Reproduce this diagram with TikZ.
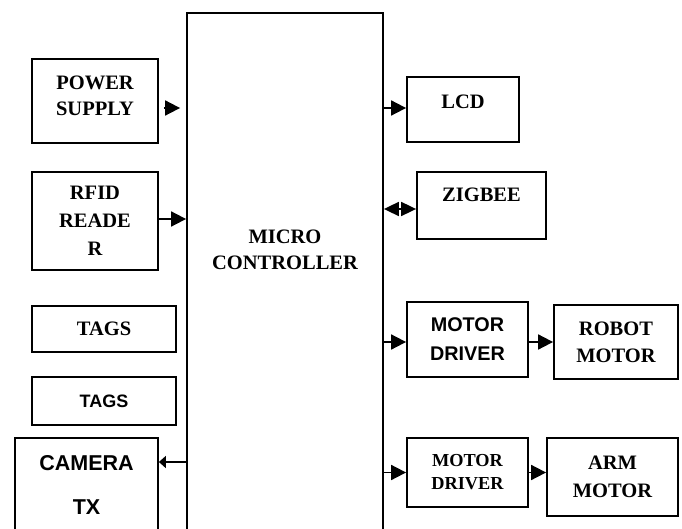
\documentclass[tikz,border=0pt]{standalone}
\usepackage{fontspec}
\setmainfont{Liberation Serif}
\setsansfont{Liberation Sans}
\usepackage{tikz}
\usetikzlibrary{arrows.meta, positioning}

\tikzset{
  blk/.style={draw, line width=1.8bp, align=center, inner sep=0pt},
  serifbig/.style={font=\fontsize{20.5bp}{#1}\selectfont\bfseries},
  sansbig/.style={font=\fontsize{19.8bp}{#1}\selectfont\sffamily\bfseries},
  arr/.style={line width=1.8bp, -{Triangle[length=15bp, width=15bp]}},
  smallarr/.style={line width=1.8bp, -{Triangle[length=7bp, width=12bp]}},
  biarr/.style={line width=1.8bp, {Triangle[length=15bp, width=14bp]}-{Triangle[length=15bp, width=14bp]}}
}

\begin{document}
\begin{tikzpicture}[x=1bp, y=-1bp]
      \useasboundingbox (0,0) rectangle (682,529);
      \clip (0,0) rectangle (682,529);

      % left side
      \node[blk, serifbig=26bp, minimum width=126bp, minimum height=84bp, text depth=10bp] (psu) at (95,101) {POWER\\SUPPLY};
      \node[blk, serifbig=28bp, minimum width=126bp, minimum height=98bp] (rfid) at (95,221) {RFID\\READE\\R};
      \node[blk, serifbig=26bp, minimum width=144bp, minimum height=46bp] (tags) at (104,329) {TAGS};
      \node[blk, font=\fontsize{18bp}{22bp}\selectfont\sffamily\bfseries, minimum width=144bp, minimum height=48bp] (tagsb) at (104,401) {TAGS};
      \node[blk, font=\fontsize{21.5bp}{44bp}\selectfont\sffamily\bfseries, minimum width=143bp, minimum height=94bp] (cam) at (86.5,485) {CAMERA\\TX};

      % controller
      \node[blk, serifbig=26bp, minimum width=196bp, minimum height=547bp, text depth=73bp] (mcu) at (285,286.5) {MICRO\\CONTROLLER};

      % right side
      \node[blk, serifbig=26bp, minimum width=112bp, minimum height=65bp, text depth=15bp] (lcd) at (463,109.5) {LCD};
      \node[blk, serifbig=26bp, minimum width=129bp, minimum height=67bp, text depth=21bp] (zigbee) at (481.5,205.5) {ZIGBEE};
      \node[blk, sansbig=29bp, minimum width=121bp, minimum height=75bp] (drva) at (467.5,339.5) {MOTOR\\DRIVER};
      \node[blk, serifbig=27bp, minimum width=124bp, minimum height=74bp] (robot) at (616,342) {ROBOT\\MOTOR};
      \node[blk, font=\fontsize{18.3bp}{23bp}\selectfont\bfseries, minimum width=121bp, minimum height=69bp] (drvb) at (467.5,472.5) {MOTOR\\DRIVER};
      \node[blk, serifbig=28bp, minimum width=131bp, minimum height=78bp] (arm) at (612.5,477) {ARM\\MOTOR};

      \draw[arr, shorten <=5bp, shorten >=6bp] ([yshift=-7bp]psu.east) -- ([yshift=-7bp]psu.east -| mcu.west);
      \draw[arr] ([yshift=2bp]rfid.east) -- ([yshift=2bp]rfid.east -| mcu.west);
      \draw[smallarr] ([yshift=23bp]cam.east -| mcu.west) -- ([yshift=23bp]cam.east);
      \draw[arr] ([yshift=1.5bp]lcd.west -| mcu.east) -- ([yshift=1.5bp]lcd.west);
      \draw[biarr] ([yshift=-3.5bp]zigbee.west -| mcu.east) -- ([yshift=-3.5bp]zigbee.west);
      \draw[arr] ([yshift=-2.5bp]drva.west -| mcu.east) -- ([yshift=-2.5bp]drva.west);
      \draw[arr] ([yshift=-2.5bp]drva.east) -- ([yshift=-2.5bp]drva.east -| robot.west);
      \draw[arr] (drvb.west -| mcu.east) -- (drvb.west);
      \draw[arr] (drvb.east) -- (drvb.east -| arm.west);
    \end{tikzpicture}
\end{document}
